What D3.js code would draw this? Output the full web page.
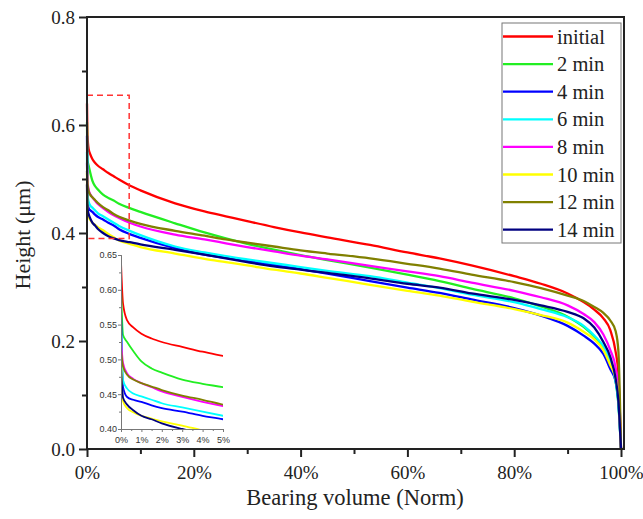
<!DOCTYPE html>
<html><head><meta charset="utf-8">
<script src="https://cdn.jsdelivr.net/npm/d3@7"></script>
<style>body{margin:0;background:#fff}svg{display:block}</style>
</head><body>
<script>
// bearing volume positions (%)
const xs = [0, 0.1, 0.3, 0.6, 1, 1.5, 2, 3, 4, 5, 6, 8, 10, 16.5, 22, 26, 30, 35, 40, 45, 53, 60, 66, 72, 80, 85, 90, 93, 95, 96.7, 98, 99, 99.5, 100];
const seriesNames = ["initial", "2 min", "4 min", "6 min", "8 min", "10 min", "12 min", "14 min"];
const seriesColors = ["#ff0000", "#22ee22", "#0000ff", "#00ffff", "#ff00ff", "#ffff00", "#808000", "#000080"];
const hInitial = [0.640,0.580,0.556,0.546,0.537,0.530,0.525,0.518,0.511,0.505,0.499,0.488,0.479,0.455,0.440,0.431,0.422,0.411,0.401,0.392,0.378,0.364,0.353,0.340,0.320,0.306,0.288,0.272,0.258,0.242,0.220,0.180,0.140,0.000];
const h2min    = [0.605,0.535,0.525,0.512,0.497,0.487,0.481,0.471,0.465,0.460,0.454,0.446,0.439,0.418,0.401,0.390,0.380,0.369,0.359,0.350,0.336,0.323,0.311,0.297,0.279,0.264,0.245,0.226,0.208,0.188,0.160,0.125,0.085,0.000];
const h4min    = [0.580,0.460,0.446,0.442,0.439,0.434,0.430,0.425,0.419,0.414,0.407,0.398,0.391,0.372,0.360,0.354,0.348,0.341,0.333,0.325,0.311,0.299,0.289,0.277,0.261,0.247,0.228,0.210,0.195,0.176,0.148,0.125,0.090,0.000];
const h6min    = [0.550,0.470,0.458,0.451,0.447,0.442,0.437,0.431,0.425,0.419,0.413,0.404,0.396,0.375,0.364,0.357,0.351,0.344,0.337,0.330,0.320,0.308,0.298,0.286,0.272,0.259,0.244,0.228,0.210,0.190,0.162,0.125,0.085,0.000];
const h8min    = [0.530,0.495,0.480,0.472,0.466,0.460,0.454,0.446,0.439,0.433,0.428,0.419,0.412,0.397,0.388,0.381,0.374,0.366,0.358,0.351,0.339,0.329,0.320,0.308,0.293,0.281,0.266,0.250,0.235,0.212,0.183,0.150,0.110,0.000];
const h10min   = [0.510,0.440,0.430,0.424,0.419,0.415,0.411,0.405,0.398,0.392,0.386,0.380,0.374,0.362,0.352,0.346,0.340,0.332,0.325,0.317,0.304,0.293,0.284,0.273,0.259,0.248,0.234,0.217,0.203,0.183,0.155,0.130,0.100,0.000];
const h12min   = [0.515,0.490,0.478,0.471,0.466,0.461,0.456,0.448,0.442,0.435,0.430,0.423,0.417,0.404,0.395,0.388,0.382,0.375,0.368,0.362,0.353,0.343,0.334,0.323,0.309,0.298,0.284,0.274,0.263,0.252,0.238,0.218,0.183,0.000];
const h14min   = [0.490,0.445,0.435,0.427,0.419,0.414,0.408,0.400,0.394,0.390,0.387,0.383,0.379,0.369,0.360,0.353,0.346,0.338,0.332,0.326,0.316,0.306,0.299,0.288,0.276,0.266,0.254,0.242,0.225,0.198,0.170,0.130,0.090,0.000];
const seriesValues = [hInitial, h2min, h4min, h6min, h8min, h10min, h12min, h14min];
const yTicks = [0, 0.2, 0.4, 0.6, 0.8];
const yMinor = [0.1, 0.3, 0.5, 0.7];
const xTicks = [0, 20, 40, 60, 80, 100];
const xMinor = [10, 30, 50, 70, 90];
const insetYTicks = [0.40, 0.45, 0.50, 0.55, 0.60, 0.65];
const insetYMinor = [0.425, 0.475, 0.525, 0.575, 0.625];
const insetXTicks = [0, 1, 2, 3, 4, 5];
const insetXMinor = [0.5, 1.5, 2.5, 3.5, 4.5];
const zoomBox = {x0: 0, x1: 7.9, y0: 0.39, y1: 0.655};

const W = 643, H = 519;
const svg = d3.select("body").append("svg").attr("width", W).attr("height", H);
const x = d3.scaleLinear().domain([0, 100]).range([87, 621]);
const y = d3.scaleLinear().domain([0, 0.8]).range([449, 17]);
const serif = "'Liberation Serif','Times New Roman',serif";
const sans = "'Liberation Sans',Arial,sans-serif";

const data = seriesValues.map((vals, i) => ({name: seriesNames[i], color: seriesColors[i], pts: xs.map((xv, j) => [xv, vals[j]])}));

// main curves
const line = d3.line().x(d => x(d[0])).y(d => y(d[1])).curve(d3.curveMonotoneX);
svg.append("g").selectAll("path").data(data).join("path")
  .attr("d", d => line(d.pts)).attr("fill", "none")
  .attr("stroke", d => d.color).attr("stroke-width", 2.3).attr("stroke-linejoin", "round");

// dashed zoom box
svg.append("path")
  .attr("d", `M${x(zoomBox.x0)},${y(zoomBox.y1)}H${x(zoomBox.x1)}V${y(zoomBox.y0)}H${x(zoomBox.x0)}`)
  .attr("fill", "none").attr("stroke", "#ff3333").attr("stroke-width", 1.5).attr("stroke-dasharray", "6,4");

// frame
svg.append("rect").attr("x", 87).attr("y", 17).attr("width", 537).attr("height", 432)
  .attr("fill", "none").attr("stroke", "#222").attr("stroke-width", 2);

// axes
const yAx = svg.append("g").attr("class", "main").attr("transform", "translate(87,0)")
  .call(d3.axisLeft(y).tickValues(yTicks).tickSize(8).tickFormat(d3.format(".1f")));
svg.append("g").attr("class", "main").attr("transform", "translate(87,0)")
  .call(d3.axisLeft(y).tickValues(yMinor).tickSize(5).tickFormat(""));
const xAx = svg.append("g").attr("class", "main").attr("transform", "translate(0,449)")
  .call(d3.axisBottom(x).tickValues(xTicks).tickSize(8).tickFormat(d => d + "%"));
svg.append("g").attr("class", "main").attr("transform", "translate(0,449)")
  .call(d3.axisBottom(x).tickValues(xMinor).tickSize(5).tickFormat(""));
svg.selectAll("g.main .domain").remove();
svg.selectAll("g.main .tick line").attr("stroke", "#222").attr("stroke-width", 2);
yAx.selectAll("text").attr("font-family", serif).attr("font-size", 19).attr("fill", "#222").attr("x", -12);
xAx.selectAll("text").attr("font-family", serif).attr("font-size", 19).attr("fill", "#222").attr("dy", "1.0em");

// axis titles
svg.append("text").attr("transform", "translate(30,235) rotate(-90)").attr("text-anchor", "middle")
  .attr("font-family", serif).attr("font-size", 22).attr("fill", "#222").text("Height (μm)");
svg.append("text").attr("x", 355).attr("y", 505).attr("text-anchor", "middle")
  .attr("font-family", serif).attr("font-size", 22.5).attr("fill", "#222").text("Bearing volume (Norm)");

// legend
const lg = svg.append("g");
lg.append("rect").attr("x", 502).attr("y", 23).attr("width", 119).attr("height", 220)
  .attr("fill", "#fff").attr("stroke", "#777").attr("stroke-width", 1);
data.forEach((d, i) => {
  const ly = 36.5 + i * 27.6;
  lg.append("line").attr("x1", 503).attr("x2", 553).attr("y1", ly).attr("y2", ly)
    .attr("stroke", d.color).attr("stroke-width", 2.3);
  lg.append("text").attr("x", 557).attr("y", ly + 7).attr("font-family", serif).attr("font-size", 20.5)
    .attr("fill", "#222").text(d.name);
});

// inset
const xi = d3.scaleLinear().domain([0, 5]).range([121, 223]);
const yi = d3.scaleLinear().domain([0.40, 0.65]).range([429, 255]);
svg.append("clipPath").attr("id", "ic").append("rect")
  .attr("x", 121).attr("y", 250).attr("width", 102).attr("height", 179);
const li = d3.line().x(d => xi(d[0])).y(d => yi(d[1])).curve(d3.curveMonotoneX);
svg.append("g").attr("clip-path", "url(#ic)").selectAll("path").data(data).join("path")
  .attr("d", d => li(d.pts.filter(p => p[0] <= 6))).attr("fill", "none")
  .attr("stroke", d => d.color).attr("stroke-width", 1.8);
const iy = svg.append("g").attr("class", "ins").attr("transform", "translate(121,0)")
  .call(d3.axisLeft(yi).tickValues(insetYTicks).tickSize(3).tickFormat(d3.format(".2f")));
svg.append("g").attr("class", "ins").attr("transform", "translate(121,0)")
  .call(d3.axisLeft(yi).tickValues(insetYMinor).tickSize(2).tickFormat(""));
const ix = svg.append("g").attr("class", "ins").attr("transform", "translate(0,429)")
  .call(d3.axisBottom(xi).tickValues(insetXTicks).tickSize(3).tickFormat(d => d + "%"));
svg.append("g").attr("class", "ins").attr("transform", "translate(0,429)")
  .call(d3.axisBottom(xi).tickValues(insetXMinor).tickSize(2).tickFormat(""));
svg.selectAll("g.ins .domain").attr("stroke", "#777").attr("stroke-width", 1);
svg.selectAll("g.ins .tick line").attr("stroke", "#777").attr("stroke-width", 1);
svg.selectAll("g.ins text").attr("font-family", sans).attr("font-size", 9).attr("fill", "#333");
iy.selectAll("text").attr("x", -4);
ix.selectAll("text").attr("dy", "0.9em");
</script>
</body></html>
